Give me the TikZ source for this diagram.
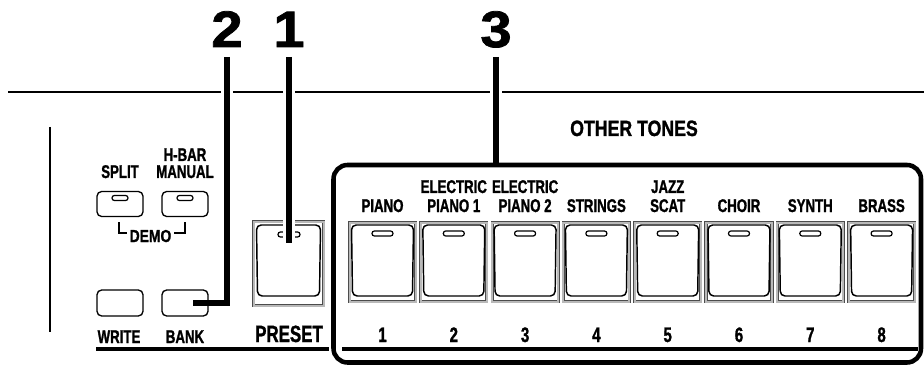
\documentclass[tikz,border=0pt]{standalone}
\usepackage{fontspec}
\setmainfont{Liberation Sans}
\newfontfamily\condA[FakeStretch=0.72,FakeBold=1.2]{Liberation Sans}
\newfontfamily\condB[FakeStretch=0.80,FakeBold=1.2]{Liberation Sans}
\newfontfamily\wideB[FakeStretch=1.10,FakeBold=1.5]{Liberation Sans}
\newcommand{\PX}{0.75pt}
\usetikzlibrary{calc}
\begin{document}
\begin{tikzpicture}[x=0.75pt,y=-0.75pt,
  thinrule/.style={line width=1pt},
  callout/.style={line width=4.2pt, preaction={draw=white, line width=8.4pt}},
  underl/.style={line width=3pt},
  sidebar/.style={line width=2.2pt},
  brk/.style={line width=1pt},
  sbtn/.style={draw, line width=1pt, rounded corners=3.5pt, minimum width=46*\PX, minimum height=25*\PX, inner sep=0pt},
  led/.style={draw, line width=0.9pt, rounded corners=1.8pt, minimum height=5*\PX, inner sep=0pt},
  frame/.style={draw=black!70, line width=0.45pt, double=gray!55, double distance=1.5pt, inner sep=0pt},
  keyface/.style={draw, line width=1.1pt, rounded corners=3.5pt},
  groupbox/.style={draw, line width=3.4pt, rounded corners=10.5pt, inner sep=0pt},
  lab/.style={font=\condA\bfseries\fontsize{13.8}{13.8}\selectfont, inner sep=0pt, anchor=base},
  num/.style={font=\condA\bfseries\fontsize{15.7}{15.7}\selectfont, inner sep=0pt, anchor=base},
  bigpreset/.style={font=\condA\bfseries\fontsize{17.6}{17.6}\selectfont, inner sep=0pt, anchor=base},
  grouplab/.style={font=\condB\bfseries\fontsize{16.6}{16.6}\selectfont, inner sep=0pt, anchor=base},
  demolab/.style={font=\condB\bfseries\fontsize{13}{13}\selectfont, inner sep=0pt, anchor=base},
  bignum/.style={font=\wideB\bfseries\fontsize{38.4}{38.4}\selectfont, inner sep=0pt, anchor=base}
]
\useasboundingbox (0,0) rectangle (924,367);

% thin rule and side bar
\draw[thinrule] (8,92) -- (924,92);
\draw[sidebar] (50,127) -- (50,332);

% big callout numbers
\node[bignum] (n2) at (227,47) {2};
\node[bignum] (n1) at (289,47) {1};
\node[bignum] (n3) at (496,47) {3};

% PRESET button
\node[frame, minimum width=70*\PX, minimum height=84*\PX] (presetf) at (288.5,263.5) {};
\draw[keyface] ([shift={(-32,-38.5)}]presetf.center) -- ([shift={(32,-38.5)}]presetf.center)
  -- ([shift={(31,32.5)}]presetf.center) -- ([shift={(-31,32.5)}]presetf.center) -- cycle;
\node[led, minimum width=22*\PX] (pled) at (289,234.5) {};

% tone buttons
\foreach \i in {1,...,8} {
  \pgfmathsetmacro\cx{382.5+(\i-1)*71.3}
  \node[frame, minimum width=66*\PX, minimum height=79*\PX] (k\i) at (\cx,262) {};
  \draw[keyface] ([shift={(-31,-37)}]k\i.center) -- ([shift={(31,-37)}]k\i.center)
    -- ([shift={(30,34)}]k\i.center) -- ([shift={(-30,34)}]k\i.center) -- cycle;
  \node[led, minimum width=21*\PX] (l\i) at (\cx,233.5) {};
  \node[num] (nn\i) at (\cx,342) {\i};
}

% callouts
\coordinate (c1e) at (289,243);
\coordinate (c2e) at (193,303);
\coordinate (c3e) at (496,165);
\draw[callout] ($(n1.base)+(0,10)$) -- (c1e);
\draw[callout] ($(n2.base)+(0,10)$) |- (c2e);
\draw[callout] ($(n3.base)+(0,10)$) -- (c3e);

% small buttons
\node[sbtn] (split) at (120,204) {};
\node[sbtn] (hbar) at (185,204) {};
\node[led, minimum width=16*\PX] (splitled) at (120,198) {};
\node[led, minimum width=16*\PX] (hbarled) at (185,198) {};
\node[sbtn, minimum height=26*\PX] (write) at (120,303) {};
\node[sbtn, minimum height=26*\PX] (bank) at (185,303) {};

% DEMO bracket
\node[demolab] (demo) at (150.5,242) {DEMO};
\draw[brk] (119,222) -- (119,233) -- (127,233);
\draw[brk] (174,233) -- (185,233) -- (185,222);

% labels of the left section
\node[lab] (splitlab) at (120,178) {SPLIT};
\node[lab] (hbarlab) at (185,161) {H-BAR};
\node[lab] (manlab) at (185,178) {MANUAL};
\node[lab] (writelab) at (119,343) {WRITE};
\node[lab] (banklab) at (185,343) {BANK};
\node[bigpreset] (presetlab) at (289,342) {PRESET};
\draw[underl] (96,348.5) -- (329,348.5);

% group box
\node[groupbox, minimum width=587.5*\PX, minimum height=197.5*\PX] (tones) at (627.25,263.75) {};
\draw[underl] (342,348.5) -- (918,348.5);
\node[grouplab] (otherlab) at (634,136) {OTHER TONES};

% tone labels
\node[lab] (t1b) at (382.5,212) {PIANO};
\node[lab] (t2a) at (453.8,193) {ELECTRIC};
\node[lab] (t2b) at (453.8,212) {PIANO 1};
\node[lab] (t3a) at (525.1,193) {ELECTRIC};
\node[lab] (t3b) at (525.1,212) {PIANO 2};
\node[lab] (t4b) at (596.4,212) {STRINGS};
\node[lab] (t5a) at (667.7,193) {JAZZ};
\node[lab] (t5b) at (667.7,212) {SCAT};
\node[lab] (t6b) at (739.0,212) {CHOIR};
\node[lab] (t7b) at (810.3,212) {SYNTH};
\node[lab] (t8b) at (881.6,212) {BRASS};
\end{tikzpicture}
\end{document}
